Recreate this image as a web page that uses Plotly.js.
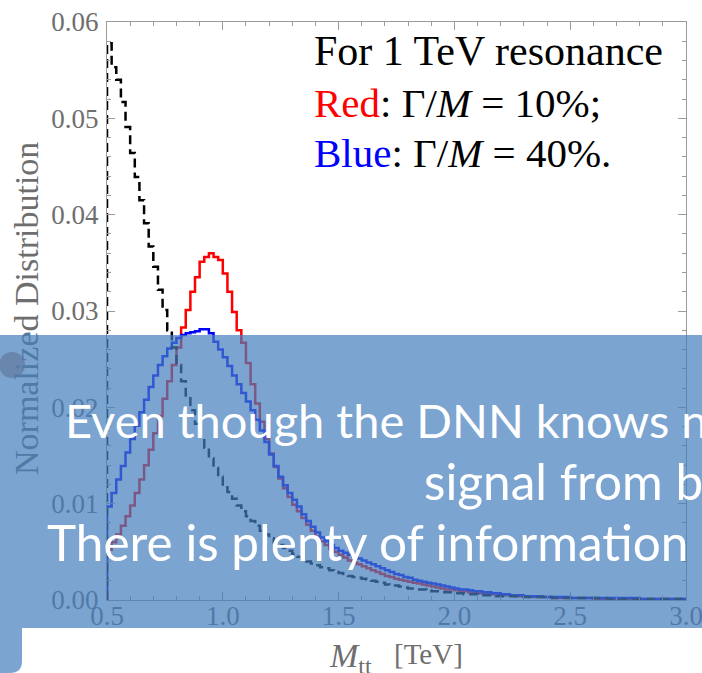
<!DOCTYPE html>
<html>
<head>
<meta charset="utf-8">
<script src="https://cdn.plot.ly/plotly-3.0.1.min.js"></script>
<style>
  html, body { margin: 0; padding: 0; background: #fff; }
  #chart { width: 702px; height: 673px; }
</style>
</head>
<body>
<div id="chart"></div>
<script>
// Histogram binning of the M_tt distributions (TeV)
const binStart = 0.5;
const binWidth = 0.02;

// Background (dashed black), normalized per bin
const background = [
  0.0578, 0.0553, 0.0540, 0.0517, 0.0491, 0.0464, 0.0439, 0.0415, 0.0391, 0.0367,
  0.0346, 0.0322, 0.0301, 0.0280, 0.0262, 0.0244, 0.0227, 0.0211, 0.0197, 0.0183,
  0.0170, 0.0158, 0.0147, 0.0137, 0.0128, 0.0120, 0.0112, 0.0105, 0.0098, 0.0092,
  0.0087, 0.0082, 0.0077, 0.0072, 0.0068, 0.0064, 0.0060, 0.0057, 0.0054, 0.0051,
  0.0048, 0.0045, 0.0043, 0.0040, 0.0038, 0.0036, 0.0034, 0.0033, 0.0031, 0.0029,
  0.0028, 0.0027, 0.0025, 0.0024, 0.0023, 0.0022, 0.0021, 0.0020, 0.0019, 0.0018,
  0.0016, 0.0015, 0.0015, 0.0014, 0.0013, 0.0012, 0.0012, 0.0011, 0.0011, 0.0010,
  0.0009, 0.0009, 0.0008, 0.0008, 0.0008, 0.0007, 0.0007, 0.0006, 0.0006, 0.0006,
  0.0005, 0.0005, 0.0005, 0.0005, 0.0004, 0.0004, 0.0004, 0.0004, 0.0004, 0.0003,
  0.0003, 0.0003, 0.0003, 0.0003, 0.0003, 0.0003, 0.0002, 0.0002, 0.0002, 0.0002,
  0.0002, 0.0002, 0.0002, 0.0002, 0.0002, 0.0002, 0.0002, 0.0002, 0.0001, 0.0001,
  0.0001, 0.0001, 0.0001, 0.0001, 0.0001, 0.0001, 0.0001, 0.0001, 0.0001, 0.0001,
  0.0001, 0.0001, 0.0001, 0.0001, 0.0001
];

// Signal, Gamma/M = 10% (red)
const signalNarrow = [
  0.0052, 0.0060, 0.0068, 0.0077, 0.0087, 0.0098, 0.0111, 0.0125, 0.0140, 0.0156,
  0.0173, 0.0191, 0.0209, 0.0227, 0.0244, 0.0262, 0.0283, 0.0301, 0.0320, 0.0335,
  0.0351, 0.0356, 0.0360, 0.0356, 0.0353, 0.0339, 0.0320, 0.0299, 0.0280, 0.0267,
  0.0246, 0.0224, 0.0204, 0.0185, 0.0167, 0.0152, 0.0138, 0.0126, 0.0116, 0.0107,
  0.0099, 0.0092, 0.0085, 0.0078, 0.0072, 0.0066, 0.0061, 0.0057, 0.0053, 0.0050,
  0.0047, 0.0044, 0.0041, 0.0039, 0.0037, 0.0035, 0.0033, 0.0031, 0.0029, 0.0027,
  0.0025, 0.0024, 0.0022, 0.0021, 0.0020, 0.0019, 0.0018, 0.0017, 0.0016, 0.0015,
  0.0014, 0.0013, 0.0012, 0.0011, 0.0011, 0.0010, 0.0009, 0.0009, 0.0008, 0.0008,
  0.0007, 0.0007, 0.0006, 0.0006, 0.0006, 0.0005, 0.0005, 0.0005, 0.0004, 0.0004,
  0.0004, 0.0003, 0.0003, 0.0003, 0.0003, 0.0003, 0.0002, 0.0002, 0.0002, 0.0002,
  0.0002, 0.0002, 0.0002, 0.0002, 0.0002, 0.0001, 0.0001, 0.0001, 0.0001, 0.0001,
  0.0001, 0.0001, 0.0001, 0.0001, 0.0001, 0.0001, 0.0001, 0.0001, 0.0001, 0.0001,
  0.0001, 0.0001, 0.0001, 0.0001, 0.0001
];

// Signal, Gamma/M = 40% (blue)
const signalWide = [
  0.0097, 0.0111, 0.0125, 0.0139, 0.0153, 0.0167, 0.0181, 0.0195, 0.0208, 0.0221,
  0.0233, 0.0244, 0.0253, 0.0261, 0.0267, 0.0272, 0.0275, 0.0277, 0.0278, 0.0279,
  0.0281, 0.0281, 0.0277, 0.0268, 0.0260, 0.0252, 0.0243, 0.0233, 0.0224, 0.0215,
  0.0206, 0.0197, 0.0187, 0.0176, 0.0164, 0.0151, 0.0139, 0.0128, 0.0119, 0.0111,
  0.0104, 0.0097, 0.0089, 0.0082, 0.0076, 0.0070, 0.0065, 0.0061, 0.0057, 0.0054,
  0.0051, 0.0049, 0.0047, 0.0045, 0.0043, 0.0041, 0.0039, 0.0037, 0.0035, 0.0033,
  0.0031, 0.0029, 0.0027, 0.0026, 0.0024, 0.0023, 0.0021, 0.0020, 0.0019, 0.0018,
  0.0017, 0.0016, 0.0015, 0.0014, 0.0013, 0.0012, 0.0011, 0.0011, 0.0010, 0.0009,
  0.0009, 0.0008, 0.0008, 0.0007, 0.0007, 0.0006, 0.0006, 0.0005, 0.0005, 0.0005,
  0.0004, 0.0004, 0.0004, 0.0004, 0.0003, 0.0003, 0.0003, 0.0003, 0.0003, 0.0003,
  0.0002, 0.0002, 0.0002, 0.0002, 0.0002, 0.0002, 0.0002, 0.0002, 0.0002, 0.0002,
  0.0002, 0.0002, 0.0002, 0.0002, 0.0002, 0.0001, 0.0001, 0.0001, 0.0001, 0.0001,
  0.0001, 0.0001, 0.0001, 0.0001, 0.0001
];

// Axis ticks
const xTicks = [0.5, 1.0, 1.5, 2.0, 2.5, 3.0];
const yTicks = [0.00, 0.01, 0.02, 0.03, 0.04, 0.05, 0.06];

// Turn per-bin values into a step outline starting from zero at the first edge
function stepOutline(vals) {
  const x = [binStart], y = [0];
  for (let i = 0; i < vals.length; i++) {
    x.push(binStart + i * binWidth);
    y.push(vals[i]);
  }
  x.push(binStart + vals.length * binWidth);
  y.push(vals[vals.length - 1]);
  return { x, y };
}

const plotL = 107, plotR = 686, plotT = 22, plotB = 600;
const W = 702, H = 673;
// pixel -> paper coordinates
const PX = px => (px - plotL) / (plotR - plotL);
const PY = py => (plotB - py) / (plotB - plotT);

const serif = 'Liberation Serif, Times New Roman, serif';
const axisGray = '#9a9a9a';
const labelGray = '#6e6e6e';
const boxFill = 'rgba(68,125,190,0.70)';

const red = stepOutline(signalNarrow);
const blue = stepOutline(signalWide);
const black = stepOutline(background);

const traces = [
  { x: red.x, y: red.y, mode: 'lines', line: { shape: 'hv', color: '#ff0000', width: 2.5 }, hoverinfo: 'skip' },
  { x: blue.x, y: blue.y, mode: 'lines', line: { shape: 'hv', color: '#0000ff', width: 2.5 }, hoverinfo: 'skip' },
  { x: black.x, y: black.y, mode: 'lines', line: { shape: 'hv', color: '#000000', width: 2.5, dash: '9px,5px' }, hoverinfo: 'skip' }
];

// Text placement helpers (baseline in px)
function serifLine(text, leftPx, baselinePx, size, color) {
  return {
    xref: 'paper', yref: 'paper', x: PX(leftPx), y: PY(baselinePx + 0.216 * size + 2),
    xanchor: 'left', yanchor: 'bottom', showarrow: false, text: text,
    font: { family: serif, size: size, color: color || '#000' }
  };
}
function boxLine(text, leftPx, baselinePx, size) {
  return {
    xref: 'paper', yref: 'paper', x: PX(leftPx), y: PY(baselinePx + 0.213 * size + 2),
    xanchor: 'left', yanchor: 'bottom', showarrow: false, text: text,
    font: { family: 'Lato, sans-serif', size: size, color: '#ffffff' }
  };
}

const annotations = [
  serifLine('For 1 TeV resonance', 312, 65, 42),
  serifLine('<span style="color:#ff0000">Red</span>: Γ/<i>M</i> = 10%;', 312, 117, 41),
  serifLine('<span style="color:#0000ff">Blue</span>: Γ/<i>M</i> = 40%.', 312, 167, 41),
  {
    xref: 'paper', yref: 'paper', x: PX(27), y: PY(309), xanchor: 'center', yanchor: 'middle',
    textangle: -90, showarrow: false,
    text: '<span style="color:#517aa6">Normalize</span>d Distribution',
    font: { family: serif, size: 34, color: labelGray }
  },
  // x-axis title: italic mass symbol with subscript, then the unit
  {
    xref: 'paper', yref: 'paper', x: PX(327), y: PY(681), xanchor: 'left', yanchor: 'bottom',
    showarrow: false, text: '<i>M</i><sub>tt</sub>',
    font: { family: serif, size: 34, color: labelGray }
  },
  serifLine('[TeV]', 392, 664, 29, labelGray),
  boxLine('Even though the DNN knows n', 63, 438, 47),
  boxLine('signal from b', 422, 500, 49.5),
  boxLine('There is plenty of information', 45, 561, 49.5)
];

const shapes = [
  // translucent text panel across the lower part
  { type: 'rect', xref: 'paper', yref: 'paper', layer: 'above',
    x0: PX(0), x1: PX(W + 5), y0: PY(628), y1: PY(335),
    fillcolor: boxFill, line: { width: 0 } },
  // tab below the panel on the left edge, rounded lower corner
  { type: 'path', xref: 'paper', yref: 'paper', layer: 'above',
    path: 'M ' + PX(0) + ',' + PY(628) + ' L ' + PX(22) + ',' + PY(628) +
          ' L ' + PX(22) + ',' + PY(661) +
          ' Q ' + PX(22) + ',' + PY(673) + ' ' + PX(10) + ',' + PY(673) +
          ' L ' + PX(0) + ',' + PY(673) + ' Z',
    fillcolor: boxFill, line: { width: 0 } },
  // round marker on the panel edge
  { type: 'circle', xref: 'paper', yref: 'paper', layer: 'above',
    x0: PX(-1), x1: PX(25), y0: PY(378), y1: PY(352),
    fillcolor: 'rgba(85,105,135,0.5)', line: { width: 0 } }
];

const axisCommon = {
  showline: true, linecolor: axisGray, linewidth: 1, mirror: 'ticks',
  ticks: 'inside', ticklen: 8, tickwidth: 1, tickcolor: axisGray,
  showgrid: false, zeroline: false, ticklabeloverflow: 'allow',
  tickfont: { family: serif, size: 27, color: labelGray }
};

const layout = {
  width: W, height: H,
  margin: { l: plotL, r: W - plotR, t: plotT, b: H - plotB, pad: 0 },
  paper_bgcolor: '#ffffff', plot_bgcolor: '#ffffff',
  showlegend: false,
  xaxis: Object.assign({}, axisCommon, {
    range: [0.5, 3.0], tickmode: 'array', tickvals: xTicks,
    ticktext: xTicks.map(v => v.toFixed(1)), ticklabelstandoff: -8,
    minor: { dtick: 0.1, tick0: 0.5, ticks: 'inside', ticklen: 4, tickcolor: axisGray, showgrid: false }
  }),
  yaxis: Object.assign({}, axisCommon, {
    range: [0, 0.06], tickmode: 'array', tickvals: yTicks,
    ticktext: yTicks.map(v => v.toFixed(2)), ticklabelstandoff: 2,
    minor: { dtick: 0.002, tick0: 0, ticks: 'inside', ticklen: 4, tickcolor: axisGray, showgrid: false }
  }),
  shapes: shapes,
  annotations: annotations
};

Plotly.newPlot('chart', traces, layout, { staticPlot: true, displayModeBar: false });
</script>
</body>
</html>
